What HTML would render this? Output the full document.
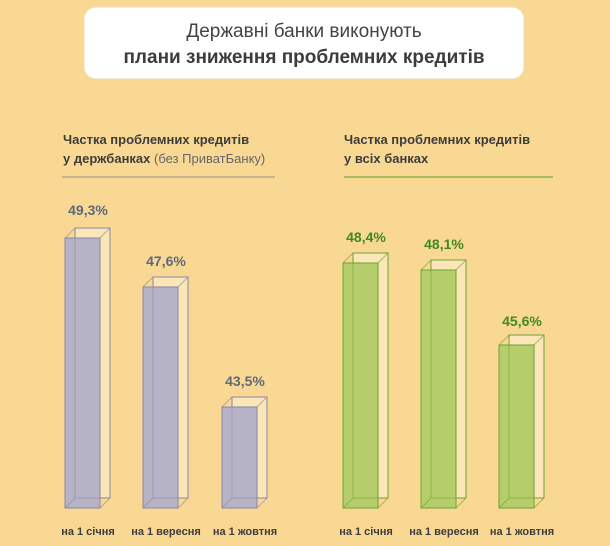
<!DOCTYPE html>
<html><head><meta charset="utf-8"><style>
body{margin:0;background:#f9d894;}
svg{display:block;font-family:"Liberation Sans","DejaVu Sans",sans-serif;}
</style></head><body>
<svg width="610" height="546" viewBox="0 0 610 546">
<rect width="610" height="546" fill="#f9d894"/>
<rect x="84" y="7" width="440" height="72" rx="12" fill="#fff" stroke="#ecdcb8"/>
<text x="304" y="37" text-anchor="middle" font-size="19" fill="#444">Державні банки виконують</text>
<text x="304" y="63" text-anchor="middle" font-size="19" font-weight="bold" fill="#3c3c3c">плани зниження проблемних кредитів</text>
<g font-size="13" font-weight="bold" fill="#3d3d3d">
<text x="63" y="144">Частка проблемних кредитів</text>
<text x="63" y="163">у держбанках <tspan font-weight="normal" fill="#666">(без ПриватБанку)</tspan></text>
<text x="344" y="144">Частка проблемних кредитів</text>
<text x="344" y="163">у всіх банках</text>
</g>
<line x1="62" y1="177" x2="275" y2="177" stroke="#a99f8c" stroke-width="1.2"/>
<line x1="344" y1="177" x2="553" y2="177" stroke="#7fae3a" stroke-width="1.2"/>
<g id="bars" stroke-width="1">
<!-- left -->
<g stroke="#8b86a8">
<rect x="75" y="228" width="35" height="270" fill="#fbe6b8"/>
<rect x="65" y="238" width="35" height="270" fill="#b7b3c7"/>
<path d="M65 238 L75 228 M100 238 L110 228 M65 508 L75 498 M100 508 L110 498 M75 228 V498 H110" fill="none" stroke-opacity="0.6"/>
<rect x="153" y="277" width="35" height="221" fill="#fbe6b8"/>
<rect x="143" y="287" width="35" height="221" fill="#b7b3c7"/>
<path d="M143 287 L153 277 M178 287 L188 277 M143 508 L153 498 M178 508 L188 498 M153 277 V498 H188" fill="none" stroke-opacity="0.6"/>
<rect x="232" y="397" width="35" height="101" fill="#fbe6b8"/>
<rect x="222" y="407" width="35" height="101" fill="#b7b3c7"/>
<path d="M222 407 L232 397 M257 407 L267 397 M222 508 L232 498 M257 508 L267 498 M232 397 V498 H267" fill="none" stroke-opacity="0.6"/>
</g>
<g stroke="#6da234">
<rect x="353" y="253" width="35" height="245" fill="#fbe6b8"/>
<rect x="343" y="263" width="35" height="245" fill="#b6cd6c"/>
<path d="M343 263 L353 253 M378 263 L388 253 M343 508 L353 498 M378 508 L388 498 M353 253 V498 H388" fill="none" stroke-opacity="0.6"/>
<rect x="431" y="260" width="35" height="238" fill="#fbe6b8"/>
<rect x="421" y="270" width="35" height="238" fill="#b6cd6c"/>
<path d="M421 270 L431 260 M456 270 L466 260 M421 508 L431 498 M456 508 L466 498 M431 260 V498 H466" fill="none" stroke-opacity="0.6"/>
<rect x="509" y="335" width="35" height="163" fill="#fbe6b8"/>
<rect x="499" y="345" width="35" height="163" fill="#b6cd6c"/>
<path d="M499 345 L509 335 M534 345 L544 335 M499 508 L509 498 M534 508 L544 498 M509 335 V498 H544" fill="none" stroke-opacity="0.6"/>
</g>
</g>
<g font-size="14" font-weight="bold" text-anchor="middle" fill="#5c6a7a">
<text x="88" y="215">49,3%</text>
<text x="166" y="266">47,6%</text>
<text x="245" y="386">43,5%</text>
</g>
<g font-size="14" font-weight="bold" text-anchor="middle" fill="#3f8a22">
<text x="366" y="242">48,4%</text>
<text x="444" y="249">48,1%</text>
<text x="522" y="326">45,6%</text>
</g>
<g font-size="11" font-weight="bold" text-anchor="middle" fill="#3d3d3d">
<text x="88" y="535">на 1 січня</text>
<text x="166" y="535">на 1 вересня</text>
<text x="245" y="535">на 1 жовтня</text>
<text x="366" y="535">на 1 січня</text>
<text x="444" y="535">на 1 вересня</text>
<text x="522" y="535">на 1 жовтня</text>
</g>
</svg>
</body></html>
